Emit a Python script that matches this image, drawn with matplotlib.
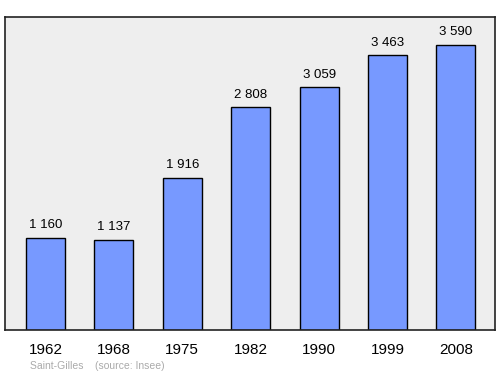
import matplotlib

matplotlib.use("Agg")
import matplotlib.pyplot as plt  # noqa: E402

years = ["1962", "1968", "1975", "1982", "1990", "1999", "2008"]
population = [1160, 1137, 1916, 2808, 3059, 3463, 3590]
value_labels = ["1 160", "1 137", "1 916", "2 808", "3 059", "3 463", "3 590"]


def main() -> None:
    plt.rcParams["font.family"] = ["Liberation Sans", "DejaVu Sans"]
    fig = plt.figure(figsize=(5.0, 3.74), dpi=100)
    ax = fig.add_axes([0.01, 0.1176, 0.98, 0.837])
    ax.set_facecolor("#eeeeee")

    xs = range(len(years))
    ax.bar(xs, population, width=0.57, color="#7799ff", edgecolor="black", linewidth=1.0, zorder=2)
    for x, v, lab in zip(xs, population, value_labels):
        ax.text(x, v + 80, lab, ha="center", va="bottom", fontsize=9.5)

    ax.set_xlim(-0.59, 6.57)
    ax.set_ylim(0, 3940)
    ax.set_xticks(list(xs), years, fontsize=11)
    ax.tick_params(axis="x", length=0, pad=9)
    ax.set_yticks([])
    for spine in ax.spines.values():
        spine.set_linewidth(1.2)
        spine.set_color("#222222")

    fig.text(0.06, 0.008, "Saint-Gilles    (source: Insee)", fontsize=7.5, color="#aaaaaa",
             ha="left", va="bottom")

    fig.savefig("out.png", dpi=100)
    plt.close(fig)


if __name__ == "__main__":
    main()
